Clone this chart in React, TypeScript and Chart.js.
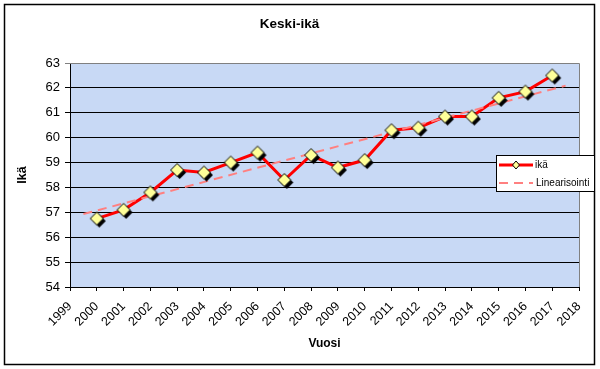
import React, { useEffect, useRef } from "react";
import { Chart, registerables } from "chart.js";

Chart.register(...registerables);

const years = [2000, 2001, 2002, 2003, 2004, 2005, 2006, 2007, 2008, 2009, 2010, 2011, 2012, 2013, 2014, 2015, 2016, 2017];
const ika = [56.75, 57.1, 57.8, 58.7, 58.6, 59.0, 59.4, 58.3, 59.3, 58.8, 59.1, 60.3, 60.4, 60.85, 60.85, 61.6, 61.85, 62.5];
const trendYears = [1999.5, 2017.5];
const trendValues = [56.93, 62.09];
const xMin = 1999;
const xMax = 2018;
const yMin = 54;
const yMax = 63;

const FONT = "'Liberation Sans', Arial, sans-serif";

function makeDiamond(): HTMLCanvasElement {
  const c = document.createElement("canvas");
  c.width = 22;
  c.height = 22;
  const g = c.getContext("2d")!;
  const r = 6.5;
  const d = (cx: number, cy: number) => {
    g.beginPath();
    g.moveTo(cx, cy - r);
    g.lineTo(cx + r, cy);
    g.lineTo(cx, cy + r);
    g.lineTo(cx - r, cy);
    g.closePath();
  };
  d(13.5, 13.5);
  g.fillStyle = "#000000";
  g.fill();
  d(11, 11);
  g.fillStyle = "#FFFF99";
  g.fill();
  g.strokeStyle = "#000000";
  g.lineWidth = 1;
  g.stroke();
  return c;
}

const decorPlugin = {
  id: "decor",
  beforeDraw(chart: any) {
    const { ctx, chartArea: a } = chart;
    ctx.save();
    ctx.fillStyle = "#ffffff";
    ctx.fillRect(0, 0, chart.width, chart.height);
    ctx.fillStyle = "#C8D9F5";
    ctx.fillRect(a.left, a.top, a.right - a.left, a.bottom - a.top);
    ctx.restore();
  },
  beforeDatasetsDraw(chart: any) {
    const { ctx, chartArea: a } = chart;
    ctx.save();
    ctx.strokeStyle = "#808080";
    ctx.lineWidth = 1;
    ctx.beginPath();
    ctx.moveTo(a.left, a.top + 0.5);
    ctx.lineTo(a.right + 0.5, a.top + 0.5);
    ctx.lineTo(a.right + 0.5, a.bottom);
    ctx.stroke();
    ctx.restore();
  },
  afterDraw(chart: any) {
    const { ctx } = chart;
    ctx.save();
    // outer border
    ctx.strokeStyle = "#000000";
    ctx.lineWidth = 1.5;
    ctx.strokeRect(4.5, 4.5, 590, 360);
    // legend
    const lx = 496.5, ly = 155.5, lw = 98, lh = 36;
    ctx.fillStyle = "#ffffff";
    ctx.fillRect(lx, ly, lw, lh);
    ctx.lineWidth = 1;
    ctx.strokeRect(lx, ly, lw, lh);
    // entry 1
    ctx.strokeStyle = "#FF0000";
    ctx.lineWidth = 3;
    ctx.beginPath();
    ctx.moveTo(499, 165);
    ctx.lineTo(533, 165);
    ctx.stroke();
    ctx.beginPath();
    ctx.moveTo(516, 161);
    ctx.lineTo(519.5, 165);
    ctx.lineTo(516, 169);
    ctx.lineTo(512.5, 165);
    ctx.closePath();
    ctx.fillStyle = "#FFFF99";
    ctx.fill();
    ctx.strokeStyle = "#000000";
    ctx.lineWidth = 1;
    ctx.stroke();
    // entry 2
    ctx.strokeStyle = "#FF8080";
    ctx.lineWidth = 2;
    ctx.setLineDash([9, 6]);
    ctx.beginPath();
    ctx.moveTo(499, 183);
    ctx.lineTo(533, 183);
    ctx.stroke();
    ctx.setLineDash([]);
    ctx.fillStyle = "#000000";
    ctx.font = `10px ${FONT}`;
    ctx.textBaseline = "middle";
    ctx.textAlign = "left";
    ctx.fillText("ikä", 535, 165.5);
    ctx.fillText("Linearisointi", 536, 183.5);
    ctx.restore();
  },
};

export default function App() {
  const ref = useRef<HTMLCanvasElement | null>(null);
  useEffect(() => {
    if (!ref.current) return;
    const diamond = makeDiamond();
    const points = years.map((y, i) => ({ x: y, y: ika[i] }));
    const trend = trendYears.map((y, i) => ({ x: y, y: trendValues[i] }));
    const chart = new Chart(ref.current, {
      type: "line",
      data: {
        datasets: [
          {
            label: "ikä",
            data: points,
            showLine: false,
            pointStyle: diamond as any,
            pointRadius: 7,
            order: 0,
          },
          {
            label: "Linearisointi",
            data: trend,
            borderColor: "#FF8080",
            borderWidth: 2,
            borderDash: [9, 6],
            pointRadius: 0,
            order: 1,
          },
          {
            label: "ikä line",
            data: points,
            borderColor: "#FF0000",
            borderWidth: 3,
            pointRadius: 0,
            tension: 0,
            order: 2,
          },
        ],
      },
      options: {
        animation: false,
        responsive: false,
        devicePixelRatio: 1,
        layout: { padding: { top: 0, right: 21, left: 0, bottom: 0 } },
        plugins: {
          legend: { display: false },
          tooltip: { enabled: false },
          title: {
            display: true,
            text: "Keski-ikä",
            color: "#000000",
            font: { family: FONT, size: 13.5, weight: "bold" },
            padding: { top: 16.5, bottom: 30.3 },
          },
        },
        scales: {
          x: {
            type: "linear",
            min: xMin,
            max: xMax,
            afterFit: (s: any) => {
              s.height = 82;
            },
            ticks: {
              stepSize: 1,
              autoSkip: false,
              maxRotation: 45,
              minRotation: 45,
              color: "#000000",
              padding: 8,
              font: { family: FONT, size: 12.5 },
              callback: (v: any) => String(v),
            },
            grid: {
              display: true,
              drawOnChartArea: false,
              drawTicks: true,
              tickLength: 4,
              color: "#000000",
            },
            border: { display: true, color: "#000000", width: 1 },
            title: {
              display: true,
              text: "Vuosi",
              color: "#000000",
              font: { family: FONT, size: 12, weight: "bold" },
              padding: { top: 0, bottom: 18 },
            },
          },
          y: {
            type: "linear",
            min: yMin,
            max: yMax,
            afterFit: (s: any) => {
              s.width = 70;
            },
            ticks: {
              stepSize: 1,
              color: "#000000",
              padding: 5,
              font: { family: FONT, size: 13 },
            },
            grid: {
              color: (c: any) => (c.tick && c.tick.value === yMax ? "#808080" : "#000000"),
              lineWidth: 1,
              tickLength: 5,
            },
            border: { display: true, color: "#000000", width: 1 },
            title: {
              display: true,
              text: "Ikä",
              color: "#000000",
              font: { family: FONT, size: 12.5, weight: "bold" },
              padding: { top: 15.3, bottom: 0 },
            },
          },
        },
      },
      plugins: [decorPlugin],
    });
    return () => chart.destroy();
  }, []);
  return (
    <div style={{ position: "absolute", left: 0, top: 0, width: 600, height: 369, background: "#fff" }}>
      <canvas ref={ref} width={600} height={369} style={{ display: "block", width: 600, height: 369 }} />
    </div>
  );
}
